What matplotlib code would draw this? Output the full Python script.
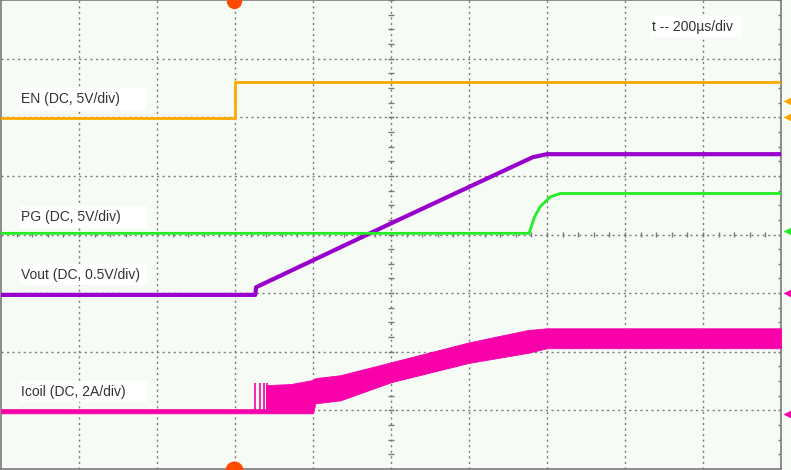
import matplotlib
matplotlib.use("Agg")
import matplotlib.pyplot as plt
from matplotlib.patches import Rectangle
import numpy as np

# scope screen: 10 x 8 divisions, all trace values in divisions
en_t = [0.0, 3.0, 3.0, 10.0]
en_v = [5.99, 5.99, 6.60, 6.60]

pg_t = [0.0, 6.77, 6.84, 6.91, 7.04, 7.17, 10.0]
pg_v = [4.02, 4.02, 4.30, 4.47, 4.64, 4.70, 4.70]

vout_t = [0.0, 3.26, 3.27, 5.0, 6.82, 7.00, 10.0]
vout_v = [2.97, 2.97, 3.10, 4.19, 5.32, 5.37, 5.37]

# Icoil drawn as an envelope (switching ripple band)
icoil_t = [0.0, 3.40, 3.40, 3.72, 4.00, 4.03, 4.35, 5.0, 6.0, 6.75, 7.0, 10.0]
icoil_hi = [1.02, 1.02, 1.43, 1.45, 1.52, 1.55, 1.60, 1.82, 2.16, 2.37, 2.40, 2.40]
icoil_lo = [0.95, 0.95, 0.95, 0.95, 0.95, 1.12, 1.17, 1.48, 1.81, 1.98, 2.06, 2.06]
spike_t = [3.25, 3.32, 3.37, 3.41]
spike_top = [1.46, 1.46, 1.46, 1.46]

labels = ["EN (DC, 5V/div)", "PG (DC, 5V/div)", "Vout (DC, 0.5V/div)", "Icoil (DC, 2A/div)"]
timebase = "t -- 200\u00b5s/div"

W, H = 791, 470
BG = "#F6FBF6"
GRID = "#7A7A7A"
C_EN, C_PG, C_VOUT, C_IL = "#FFA800", "#22EE22", "#9A00CC", "#F800AA"

fig = plt.figure(figsize=(W / 100, H / 100), dpi=100)
fig.patch.set_facecolor(BG)

ax = fig.add_axes([1 / W, 1 / H, 780 / W, 469 / H])
ax.set_facecolor(BG)
ax.set_xlim(0, 10)
ax.set_ylim(0, 8)
ax.set_xticks([])
ax.set_yticks([])
for sp in ax.spines.values():
    sp.set_color(GRID)
    sp.set_linewidth(1.2)

# graticule
for gx in range(1, 10):
    ax.axvline(gx, color=GRID, lw=1.0, ls=(0, (1.5, 2.5)), zorder=1)
for gy in range(1, 8):
    ax.axhline(gy, color=GRID, lw=1.0, ls=(0, (1.5, 2.5)), zorder=1)
minor_x = np.arange(0, 10.01, 0.2)
minor_y = np.arange(0, 8.01, 0.25)
ax.vlines(minor_x, 4 - 0.05, 4 + 0.05, color=GRID, lw=1.0, zorder=1)
ax.hlines(minor_y, 5 - 0.04, 5 + 0.04, color=GRID, lw=1.0, zorder=1)
ax.hlines(minor_y, 10 - 0.04, 10, color=GRID, lw=1.0, zorder=1)

# traces
ax.fill_between(icoil_t, icoil_lo, icoil_hi, color=C_IL, lw=0.6, zorder=3)
ax.vlines(spike_t, 0.96, spike_top, color=C_IL, lw=1.2, zorder=3)
ax.plot(en_t, en_v, color=C_EN, lw=2.0, zorder=4)
ax.plot(vout_t, vout_v, color=C_VOUT, lw=3.0, zorder=4)
ax.plot(pg_t, pg_v, color=C_PG, lw=2.0, zorder=5)

# overlay in pixel coordinates for labels and markers
ov = fig.add_axes([0, 0, 1, 1])
ov.set_xlim(0, W)
ov.set_ylim(H, 0)
ov.axis("off")
ov.patch.set_visible(False)

label_boxes = [(20, 88, 127, 22), (20, 206, 127, 22), (20, 264, 127, 21), (20, 381, 127, 21)]
for text, (bx, by, bw, bh) in zip(labels, label_boxes):
    ov.add_patch(Rectangle((bx, by), bw, bh, facecolor="white", edgecolor="none", zorder=6))
    ov.text(bx + 1, by + bh / 2 + 0.5, text, fontsize=10, family="Liberation Sans",
            color="#333333", va="center", ha="left", zorder=7)

ov.add_patch(Rectangle((650, 16), 92, 21, facecolor="white", edgecolor="none", zorder=6))
ov.text(652, 27, timebase, fontsize=10, family="Liberation Sans",
        color="#333333", va="center", ha="left", zorder=7)

# trigger position markers
ov.plot([234], [1], marker="o", ms=11, color="#FF4A00", mec="none", clip_on=False, zorder=8)
ov.plot([234], [470], marker="o", ms=13, color="#FF4A00", mec="none", clip_on=False, zorder=8)

# channel reference markers on the right
for my, mc in [(101, C_EN), (117, C_EN), (231, C_PG), (293, C_IL), (414, C_IL)]:
    ov.plot([787], [my], marker="<", ms=6, color=mc, mec="none", zorder=8)

fig.savefig("out.png", dpi=100, facecolor=BG)
